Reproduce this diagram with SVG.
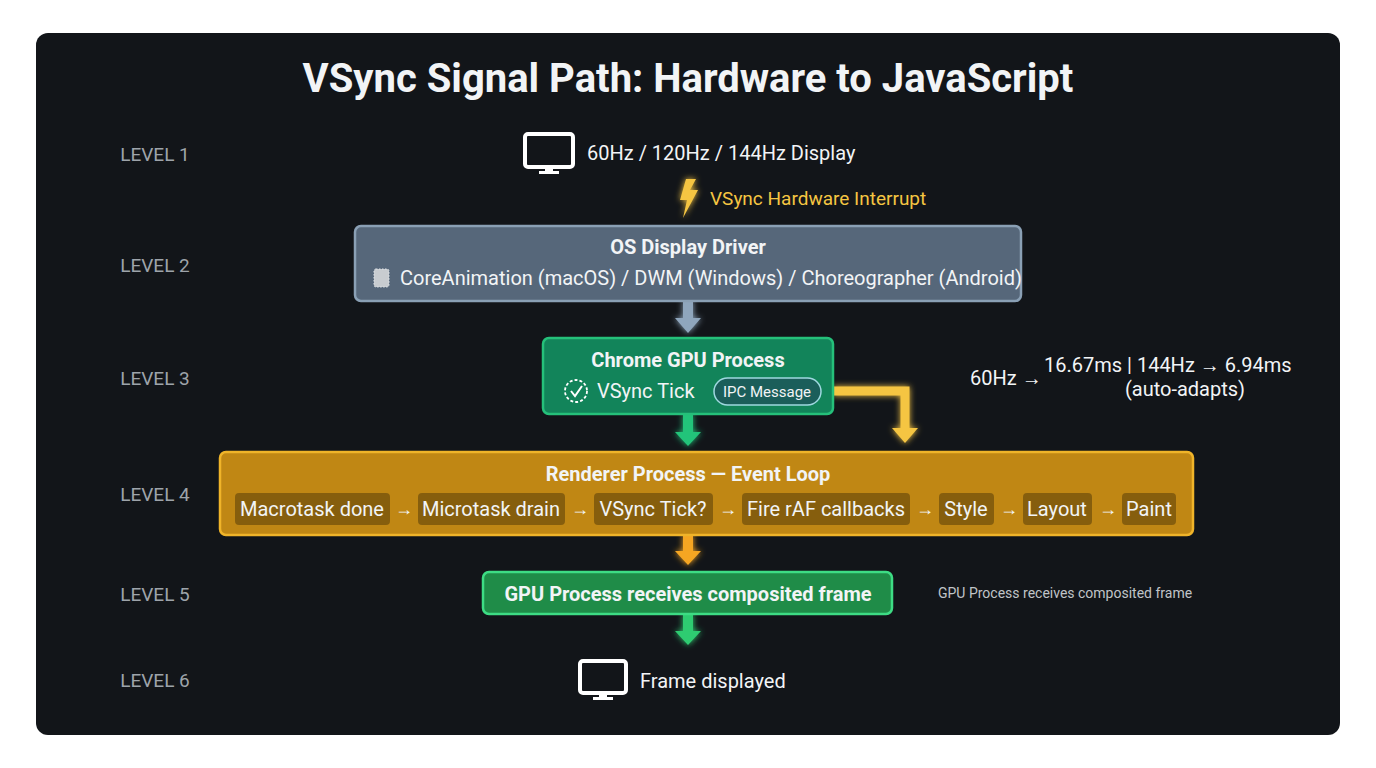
<svg xmlns="http://www.w3.org/2000/svg" width="1376" height="768" viewBox="0 0 1376 768">
<defs>
<style>
text{font-family:"Roboto","Liberation Sans",sans-serif;fill:#f2f4f6}
.lvl{font-size:19px;fill:#9ea4aa;text-anchor:middle}
.t{font-size:20px;font-weight:bold;text-anchor:middle}
.b{font-size:20px}
.pill{fill:#000;fill-opacity:0.3}
.pt{font-size:20px;text-anchor:middle}
.arr{font-size:18px}
</style>
<filter id="glow" x="-50%" y="-50%" width="200%" height="200%"><feGaussianBlur stdDeviation="3" result="b"/><feMerge><feMergeNode in="b"/><feMergeNode in="SourceGraphic"/></feMerge></filter>
</defs>
<rect width="1376" height="768" fill="#fff"/>
<rect x="36" y="33" width="1304" height="702" rx="12" fill="#121519"/>
<text x="688" y="92" font-size="40" font-weight="bold" text-anchor="middle">VSync Signal Path: Hardware to JavaScript</text>
<g id="levels">
<text class="lvl" x="155" y="161">LEVEL 1</text>
<text class="lvl" x="155" y="272">LEVEL 2</text>
<text class="lvl" x="155" y="385">LEVEL 3</text>
<text class="lvl" x="155" y="501">LEVEL 4</text>
<text class="lvl" x="155" y="601">LEVEL 5</text>
<text class="lvl" x="155" y="687">LEVEL 6</text>
</g>
<g id="connectors" filter="url(#glow)">
<path d="M683 301v17h-8l13 15 13-15h-8v-17z" fill="#8fa6bd"/>
<path d="M683 414v18h-8l13 14 13-14h-8v-18z" fill="#22c47a"/>
<path d="M833 391h72v42" fill="none" stroke="#f5c542" stroke-width="9"/>
<path d="M892 428h26l-13 15z" fill="#f5c542"/>
<path d="M683 535v16h-8l13 14 13-14h-8v-16z" fill="#f5a623"/>
<path d="M683 614v17h-8l13 14 13-14h-8v-17z" fill="#2ecc71"/>
</g>
<g id="display">
<rect x="525" y="134" width="48" height="33" rx="3" fill="none" stroke="#fff" stroke-width="4"/>
<rect x="545" y="167" width="8" height="5" fill="#fff"/><rect x="539" y="171" width="20" height="3" fill="#fff"/>
<text class="b" x="587" y="160">60Hz / 120Hz / 144Hz Display</text>
</g>
<g id="interrupt">
<path d="M686 179h10l-6 11h8l-15 28 4-18h-7z" fill="#f5c542" filter="url(#glow)"/>
<text x="710" y="205" font-size="19" style="fill:#f5c542">VSync Hardware Interrupt</text>
</g>
<g id="os">
<rect x="355" y="226" width="666" height="75" rx="6" fill="#56677a" stroke="#8aa0b5" stroke-width="2.5"/>
<text class="t" x="688" y="254">OS Display Driver</text>
<rect x="374" y="269" width="15" height="18" rx="2" fill="#c8ccd0" stroke="#e0e4e8" stroke-dasharray="1.5 1.5"/>
<text class="b" x="400" y="285">CoreAnimation (macOS) / DWM (Windows) / Choreographer (Android)</text>
</g>
<g id="chrome">
<rect x="543" y="338" width="290" height="76" rx="6" fill="#12845a" stroke="#25c07a" stroke-width="2.5"/>
<text class="t" x="688" y="367">Chrome GPU Process</text>
<circle cx="576" cy="391" r="11" fill="none" stroke="#fff" stroke-width="1.8" stroke-dasharray="3 2"/>
<path d="M571 391l4 5 7-10" fill="none" stroke="#fff" stroke-width="2"/>
<text class="b" x="597" y="398">VSync Tick</text>
<rect x="714" y="378" width="107" height="27" rx="13.5" fill="#1b5e5a" stroke="#9fd8e0" stroke-width="1.5"/>
<text x="767" y="397" font-size="15" text-anchor="middle">IPC Message</text>
</g>
<g id="timing">
<text class="b" x="970" y="385">60Hz →</text>
<text class="b" x="1044" y="372">16.67ms | 144Hz → 6.94ms</text>
<text class="b" x="1185" y="396" text-anchor="middle">(auto-adapts)</text>
</g>
<g id="renderer">
<rect x="220" y="452" width="973" height="83" rx="6" fill="#c08714" stroke="#f0b429" stroke-width="2.5"/>
<text class="t" x="688" y="481">Renderer Process — Event Loop</text>
<rect class="pill" x="235" y="493" width="155" height="32" rx="4"/><text class="pt" x="312" y="516">Macrotask done</text>
<text class="arr" x="395" y="515">→</text>
<rect class="pill" x="418" y="493" width="147" height="32" rx="4"/><text class="pt" x="491" y="516">Microtask drain</text>
<text class="arr" x="571" y="515">→</text>
<rect class="pill" x="594" y="493" width="119" height="32" rx="4"/><text class="pt" x="653" y="516">VSync Tick?</text>
<text class="arr" x="719" y="515">→</text>
<rect class="pill" x="742" y="493" width="168" height="32" rx="4"/><text class="pt" x="826" y="516">Fire rAF callbacks</text>
<text class="arr" x="916" y="515">→</text>
<rect class="pill" x="939" y="493" width="55" height="32" rx="4"/><text class="pt" x="966" y="516">Style</text>
<text class="arr" x="1000" y="515">→</text>
<rect class="pill" x="1023" y="493" width="69" height="32" rx="4"/><text class="pt" x="1057" y="516">Layout</text>
<text class="arr" x="1099" y="515">→</text>
<rect class="pill" x="1122" y="493" width="54" height="32" rx="4"/><text class="pt" x="1149" y="516">Paint</text>
</g>
<g id="gpu">
<rect x="483" y="572" width="409" height="42" rx="6" fill="#1f8c48" stroke="#3ddc84" stroke-width="2.5"/>
<text class="t" x="688" y="601">GPU Process receives composited frame</text>
<text x="938" y="598" font-size="14" style="fill:#c0c4c8">GPU Process receives composited frame</text>
</g>
<g id="frame">
<rect x="580" y="661" width="46" height="32" rx="3" fill="none" stroke="#fff" stroke-width="4"/>
<rect x="599" y="693" width="8" height="4" fill="#fff"/><rect x="593" y="697" width="20" height="3" fill="#fff"/>
<text class="b" x="640" y="688">Frame displayed</text>
</g>
</svg>
